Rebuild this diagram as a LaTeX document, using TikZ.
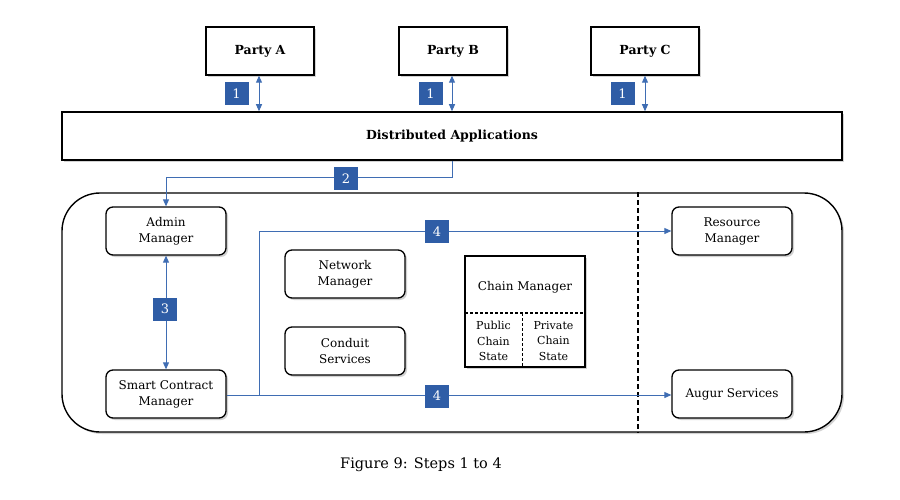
\documentclass[tikz,border=0pt]{standalone}
\usepackage{fontspec}
\setmainfont{DejaVu Serif}
\usetikzlibrary{shadows,arrows.meta}
\definecolor{lblue}{HTML}{2F5DA6}
\definecolor{ablue}{HTML}{3F6DB3}
\tikzset{
  sq/.style={draw=black, line width=1.4pt, fill=white, minimum width=108pt, minimum height=48pt, inner sep=0pt, drop shadow={shadow xshift=2pt, shadow yshift=-2pt, opacity=0.35}},
  rbox/.style={draw=black, line width=1.3pt, fill=white, rounded corners=7pt, minimum width=120pt, minimum height=48pt, inner sep=0pt, align=center, font=\fontsize{12}{16}\selectfont, drop shadow={shadow xshift=2pt, shadow yshift=-2pt, opacity=0.35}},
  num/.style={fill=lblue, text=white, minimum width=24pt, minimum height=23pt, inner sep=0pt, font=\fontsize{13}{13}\selectfont},
  conn/.style={draw=ablue, line width=0.9pt},
  tip/.style={-{Triangle[length=7pt,width=6pt]}},
  tips/.style={{Triangle[length=7pt,width=6pt]}-{Triangle[length=7pt,width=6pt]}},
}
\begin{document}
\begin{tikzpicture}[x=1pt,y=-1pt]
\useasboundingbox (0,0) rectangle (900,500);
% parties
\node[sq, font=\bfseries\fontsize{12.5}{13}\selectfont] (pa) at (260,51) {Party A};
\node[sq, font=\bfseries\fontsize{12.5}{13}\selectfont] (pb) at (453,51) {Party B};
\node[sq, font=\bfseries\fontsize{12.5}{13}\selectfont] (pc) at (645,51) {Party C};
% distributed applications
\node[draw=black, line width=1.5pt, fill=white, minimum width=780pt, minimum height=48pt, inner sep=0pt, font=\bfseries\fontsize{12.5}{13}\selectfont, drop shadow={shadow xshift=2pt, shadow yshift=-2pt, opacity=0.35}] (da) at (452,136) {Distributed Applications};
% step 1
\draw[conn,tips] (pa.south -| 259,0) -- (da.north -| 259,0);
\draw[conn,tips] (pb.south -| 452,0) -- (da.north -| 452,0);
\draw[conn,tips] (pc.south -| 645,0) -- (da.north -| 645,0);
\node[num] (n1a) at (236.5,94) {1};
\node[num] (n1b) at (430.5,94) {1};
\node[num] (n1c) at (622.5,94) {1};
% big container
\node[draw=black, line width=1.4pt, rounded corners=38pt, minimum width=780pt, minimum height=239pt, inner sep=0pt, drop shadow={shadow xshift=2pt, shadow yshift=-2pt, opacity=0.35}, fill=white] (cont) at (452,312.5) {};
\draw[line width=1.5pt, dash pattern=on 5pt off 3pt] (cont.north -| 638,0) coordinate (dtop) -- (cont.south -| 638,0) coordinate (dbot);
% inner boxes
\node[rbox] (am) at (166,231) {Admin\\Manager};
\node[rbox] (sc) at (166,394) {Smart Contract\\Manager};
\node[rbox] (nm) at (345,274) {Network\\Manager};
\node[rbox] (cs) at (345,351) {Conduit\\Services};
\node[rbox] (rm) at (732,231) {Resource\\Manager};
\node[rbox] (as) at (732,394) {Augur Services};
% chain manager
\node[draw=black, line width=1.4pt, fill=white, minimum width=120pt, minimum height=111pt, inner sep=0pt, drop shadow={shadow xshift=2pt, shadow yshift=-2pt, opacity=0.35}] (cm) at (525,311.5) {};
\node[font=\fontsize{12}{13}\selectfont] (cmt) at (525,287) {Chain Manager};
\coordinate (cmL) at (465,313);
\coordinate (cmR) at (585,313);
\draw[line width=1.2pt, dash pattern=on 3pt off 2pt] (cmL) -- (cmR);
\coordinate (cmM) at (522,313);
\draw[line width=0.7pt, dash pattern=on 3pt off 2pt] (cmM) -- (cm.south -| cmM);
\node[align=center, font=\fontsize{11}{15.5}\selectfont] (pub) at (493.5,341) {Public\\Chain\\State};
\node[align=center, font=\fontsize{11}{15.5}\selectfont] (pri) at (553.5,341) {Private\\Chain\\State};
% step 2
\coordinate (c2a) at (452,177);
\coordinate (c2b) at (166,177);
\draw[conn,tip] (da.south -| c2a) -- (c2a) -- (c2b) -- (am.north);
\node[num] (n2) at (346,178.5) {2};
% step 3
\draw[conn,tips] (am.south) -- (sc.north);
\node[num] (n3) at (165,309) {3};
% step 4
\coordinate (br) at (259,395);
\coordinate (bu) at (259,231);
\draw[conn,tip] (sc.east |- br) -- (as.west |- br);
\draw[conn,tip] (br) -- (bu) -- (rm.west |- bu);
\node[num] (n4a) at (437,231.5) {4};
\node[num] (n4b) at (437,396) {4};
% caption
\node[font=\fontsize{14.5}{16}\selectfont] (cap) at (421,465) {Figure 9: Steps 1 to 4};
\end{tikzpicture}
\end{document}
